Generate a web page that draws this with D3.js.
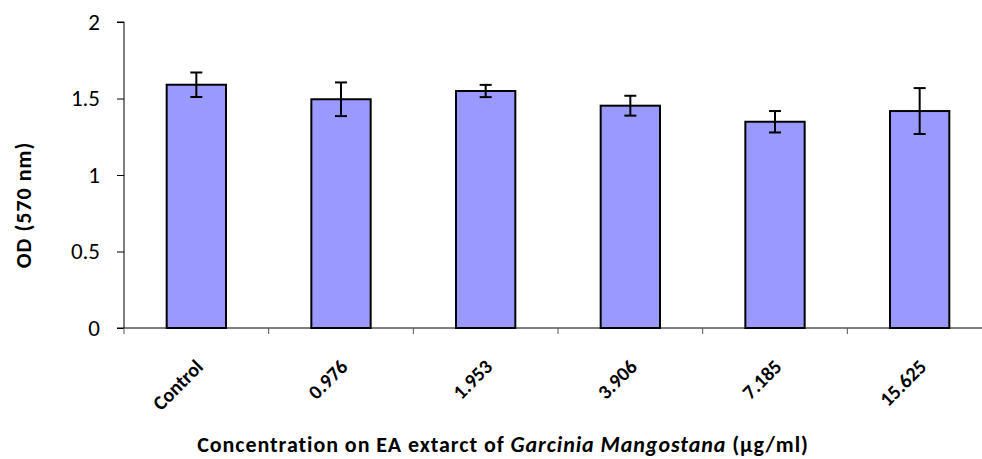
<!DOCTYPE html>
<html><head><meta charset="utf-8">
<script src="https://cdn.jsdelivr.net/npm/d3@7"></script>
<style>body{margin:0;background:#fff}svg{display:block}</style>
</head><body>
<svg id="c" width="982" height="459"></svg>
<script>
const categories = ["Control","0.976","1.953","3.906","7.185","15.625"];
const values = [1.59, 1.495, 1.549, 1.453, 1.348, 1.418];
const errors = [0.08, 0.11, 0.04, 0.065, 0.07, 0.15];
const yTicks = [0, 0.5, 1, 1.5, 2];

(function(){
const svg = d3.select("#c");
const font = "Carlito, Calibri, Lato, 'Open Sans', sans-serif";
const pL = 124, pR = 992, pT = 22, pB = 328;
const x = d3.scaleBand().domain(categories).range([pL, pR]).paddingInner(0.59).paddingOuter(0.295);
const xb = d3.scaleBand().domain(categories).range([pL, pR]);
const y = d3.scaleLinear().domain([0, 2]).range([pB, pT]);

// bars
svg.append("g").selectAll("rect").data(categories).join("rect")
  .attr("x", d => x(d)).attr("width", x.bandwidth())
  .attr("y", (d,i) => y(values[i])).attr("height", (d,i) => y(0) - y(values[i]))
  .attr("fill", "#9999FF").attr("stroke", "#000").attr("stroke-width", 2);

// error bars
const eg = svg.append("g").attr("stroke", "#000").attr("stroke-width", 2).attr("fill", "none");
categories.forEach((c, i) => {
  const cx = xb(c) + xb.bandwidth() / 2;
  const hi = y(values[i] + errors[i]), lo = y(values[i] - errors[i]);
  eg.append("line").attr("x1", cx).attr("x2", cx).attr("y1", hi).attr("y2", lo);
  eg.append("line").attr("x1", cx - 6).attr("x2", cx + 6).attr("y1", hi).attr("y2", hi);
  eg.append("line").attr("x1", cx - 6).attr("x2", cx + 6).attr("y1", lo).attr("y2", lo);
});

// y axis
const ya = svg.append("g").attr("transform", `translate(${pL},0)`)
  .call(d3.axisLeft(y).tickValues(yTicks).tickFormat(d3.format("")).tickSize(7).tickPadding(17));
ya.select(".domain").attr("stroke", "#000").attr("stroke-width", 1).attr("d", `M-7,${pT}H0V${pB}`);
ya.selectAll(".tick line").attr("stroke", "#000");
ya.selectAll("text").attr("font-family", font).attr("font-size", 23).attr("fill", "#000");

// x axis
const xa = svg.append("g").attr("transform", `translate(0,${pB})`);
xa.append("line").attr("x1", pL - 7).attr("x2", pR).attr("y1", 0).attr("y2", 0).attr("stroke", "#000").attr("stroke-width", 1);
const xTickPos = categories.map(c => xb(c)).concat([xb.range()[1]]);
xa.selectAll(".xt").data(xTickPos).join("line").attr("class","xt")
  .attr("x1", d => d).attr("x2", d => d).attr("y1", 0).attr("y2", 6).attr("stroke", "#555").attr("stroke-width", 1);
xa.selectAll(".xl").data(categories).join("text").attr("class","xl")
  .attr("transform", d => `translate(${xb(d) + xb.bandwidth()/2 + 8},${40}) rotate(-45)`)
  .attr("text-anchor", "end").attr("font-family", font).attr("font-size", 20).attr("font-weight", "bold")
  .attr("fill", "#000").text(d => d);

// axis titles
svg.append("text").attr("transform", "translate(31,205) rotate(-90)").attr("text-anchor", "middle")
  .attr("font-family", font).attr("font-size", 22).attr("letter-spacing", 1).attr("font-weight", "bold").text("OD (570 nm)");
const xt = svg.append("text").attr("x", 503).attr("y", 452).attr("text-anchor", "middle")
  .attr("font-family", font).attr("font-size", 22).attr("letter-spacing", 0.95).attr("font-weight", "bold");
xt.append("tspan").text("Concentration on EA extarct of ");
xt.append("tspan").attr("font-style", "italic").text("Garcinia Mangostana");
xt.append("tspan").text(" (µg/ml)");
})();
</script>
</body></html>
